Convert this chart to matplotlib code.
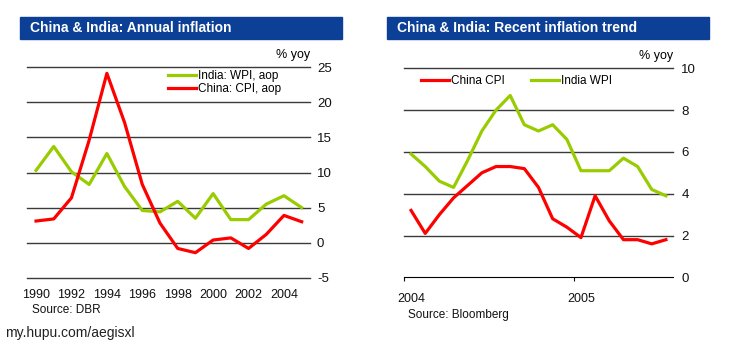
import matplotlib.pyplot as plt
from matplotlib.patches import Rectangle
from matplotlib.transforms import ScaledTranslation

# data
years = list(range(1990, 2006))
india_wpi_annual = [10.3, 13.7, 10.1, 8.3, 12.7, 8.0, 4.6, 4.4, 5.9, 3.5, 7.0, 3.3, 3.3, 5.5, 6.7, 5.0]
china_cpi_annual = [3.1, 3.4, 6.4, 14.6, 24.1, 17.1, 8.3, 2.8, -0.8, -1.4, 0.4, 0.7, -0.8, 1.2, 3.9, 3.0]

months = list(range(19))  # Jan 2004 .. Jul 2005
china_cpi_monthly = [3.2, 2.1, 3.0, 3.8, 4.4, 5.0, 5.3, 5.3, 5.2, 4.3, 2.8, 2.4,
                     1.9, 3.9, 2.7, 1.8, 1.8, 1.6, 1.8]
india_wpi_monthly = [5.9, 5.3, 4.6, 4.3, 5.6, 7.0, 8.0, 8.7, 7.3, 7.0, 7.3, 6.6,
                     5.1, 5.1, 5.1, 5.7, 5.3, 4.2, 3.9]

plt.rcParams["font.family"] = ["Liberation Sans", "DejaVu Sans"]
plt.rcParams["axes.unicode_minus"] = False

RED = "#ff0000"
GREEN = "#99cc00"
BLUE = "#0c3f96"
GRID = "#3a3a3a"
TXT = "#111111"

fig = plt.figure(figsize=(7.5, 3.44), dpi=100)

# title bars
for x0, w, title in [(20, 322, "China & India: Annual inflation"),
                     (387, 322, "China & India: Recent inflation trend")]:
    fig.patches.append(Rectangle((x0 / 750, 1 - 39 / 344), w / 750, 22 / 344,
                                 transform=fig.transFigure, color=BLUE, zorder=0))
    fig.text((x0 + 10) / 750, 1 - 28 / 344, title, color="white", fontsize=10,
             fontweight="bold", va="center")

# left chart
ax1 = fig.add_axes([27 / 750, 1 - 278 / 344, 283 / 750, 211 / 344])
ax1.plot(years, india_wpi_annual, color=GREEN, lw=2.3, label="India: WPI, aop")
ax1.plot(years, china_cpi_annual, color=RED, lw=2.3, label="China: CPI, aop")
ax1.set_xlim(1989.49, 2005.47)
ax1.set_ylim(-5, 25)
ax1.set_yticks(range(-5, 30, 5))
ax1.set_xticks(range(1990, 2005, 2))
ax1.yaxis.tick_right()
for y in range(-5, 30, 5):
    ax1.axhline(y, color=GRID, lw=1, zorder=0, clip_on=False)
for s in ax1.spines.values():
    s.set_visible(False)
ax1.tick_params(axis="both", length=0, colors=TXT)
ax1.tick_params(axis="y", pad=5, labelsize=9.5)
ax1.tick_params(axis="x", pad=8, labelsize=9)
ax1.legend(loc="upper left", bbox_to_anchor=(0.498, 0.985), frameon=False,
           fontsize=8.5, handlelength=2.4, handletextpad=0.15, labelspacing=0.05,
           borderaxespad=0, borderpad=0)
ax1.text(1.0, 1.03, "% yoy", transform=ax1.transAxes, ha="right", va="bottom", fontsize=9)
fig.text(32 / 750, 1 - 310 / 344, "Source: DBR", fontsize=8.5, va="center", color=TXT)

# right chart
ax2 = fig.add_axes([404 / 750, 1 - 277.3 / 344, 269 / 750, 209 / 344])
mx = [m + 0.5 for m in months]
ax2.plot(mx, china_cpi_monthly, color=RED, lw=2.3, label="China CPI")
ax2.plot(mx, india_wpi_monthly, color=GREEN, lw=2.3, label="India WPI")
ax2.set_xlim(0, 19)
ax2.set_ylim(0, 10)
ax2.set_yticks(range(0, 12, 2))
ax2.set_xticks([0, 12])
ax2.set_xticklabels(["2004", "2005"])
ax2.yaxis.tick_right()
for y in range(2, 12, 2):
    ax2.axhline(y, color=GRID, lw=1, zorder=0, clip_on=False)
for k, s in ax2.spines.items():
    s.set_visible(k == "bottom")
ax2.spines["bottom"].set_color("black")
ax2.tick_params(axis="y", length=0, labelsize=9.5, pad=6, colors=TXT)
ax2.tick_params(axis="x", length=3, direction="out", labelsize=9, pad=8, colors=TXT)
shift = ScaledTranslation(7 / 100, 0, fig.dpi_scale_trans)
for lab in ax2.get_xticklabels():
    lab.set_transform(lab.get_transform() + shift)
ax2.legend(loc="upper left", bbox_to_anchor=(0.062, 0.966), frameon=False, ncol=2,
           fontsize=8.5, handlelength=2.4, handletextpad=0.15, columnspacing=2.2,
           borderaxespad=0, borderpad=0)
ax2.text(1.0, 1.03, "% yoy", transform=ax2.transAxes, ha="right", va="bottom", fontsize=9)
fig.text(408 / 750, 1 - 315 / 344, "Source: Bloomberg", fontsize=8.5, va="center", color=TXT)

fig.text(5 / 750, 1 - 333 / 344, "my.hupu.com/aegisxl", fontsize=10, color="#222222",
         va="center")

fig.savefig("out.png", dpi=100)
